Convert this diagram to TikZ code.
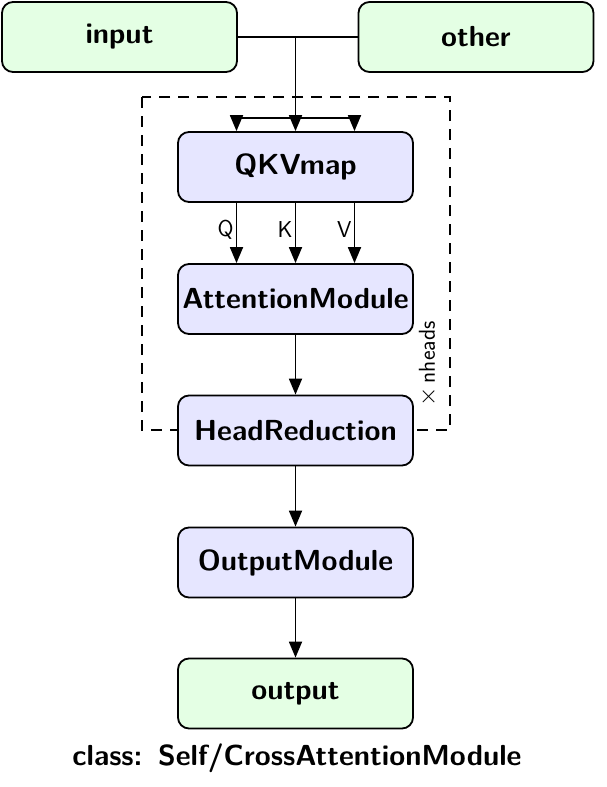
\documentclass[tikz,border=0pt]{standalone}
\usetikzlibrary{arrows.meta}
\definecolor{gfill}{RGB}{228,255,228}
\definecolor{bfill}{RGB}{230,230,255}
\begin{document}
\begin{tikzpicture}[x=1pt,y=1pt,
  line width=1.8pt,
  box/.style={draw, rounded corners=11pt, minimum width=235pt, minimum height=70pt,
    font=\fontsize{29}{34}\selectfont\sffamily\bfseries, inner sep=0pt},
  gbox/.style={box, fill=gfill},
  bbox/.style={box, fill=bfill},
  arr/.style={-{Triangle[length=16pt,width=13pt]}},
  lbl/.style={font=\fontsize{23}{27}\selectfont\sffamily, inner sep=3pt}]
\useasboundingbox (0,0) rectangle (607,-787);
% dashed frame (drawn first so boxes cover it)
\draw[dash pattern=on 11pt off 8pt, line width=1.5pt] (142,-97) rectangle (450,-430);
\node[gbox] (input) at (119.5,-37) {input};
\node[gbox] (other) at (476,-37) {other};
\node[bbox] (qkv) at (295.5,-167) {QKVmap};
\node[bbox] (att) at (295.5,-299) {AttentionModule};
\node[bbox] (head) at (295.5,-430.5) {HeadReduction};
\node[bbox] (outm) at (295.5,-562.5) {OutputModule};
\node[gbox] (out) at (295.5,-693.5) {output};
\node[font=\fontsize{29}{34}\selectfont\sffamily\bfseries] (cap) at (297,-758) {class:\ \,Self/CrossAttentionModule};
\node[lbl, rotate=90] (nh) at (428,-364) {$\times$\,nheads};
\coordinate (j) at (295.5,-37);
\coordinate (b) at (295.5,-118);
\draw (input.east) -- (other.west);
\draw[arr] (j) -- (qkv.north);
\draw[arr] (b) -| ([xshift=-59pt]qkv.north);
\draw[arr] (b) -| ([xshift=59pt]qkv.north);
\draw[arr] ([xshift=-59pt]qkv.south) -- node[lbl, left, pos=0.45, inner sep=2pt] {Q} ([xshift=-59pt]att.north);
\draw[arr] (qkv.south) -- node[lbl, left, pos=0.45, inner sep=2pt] {K} (att.north);
\draw[arr] ([xshift=59pt]qkv.south) -- node[lbl, left, pos=0.45, inner sep=2pt] {V} ([xshift=59pt]att.north);
\draw[arr] (att) -- (head);
\draw[arr] (head) -- (outm);
\draw[arr] (outm) -- (out);
\end{tikzpicture}
\end{document}
